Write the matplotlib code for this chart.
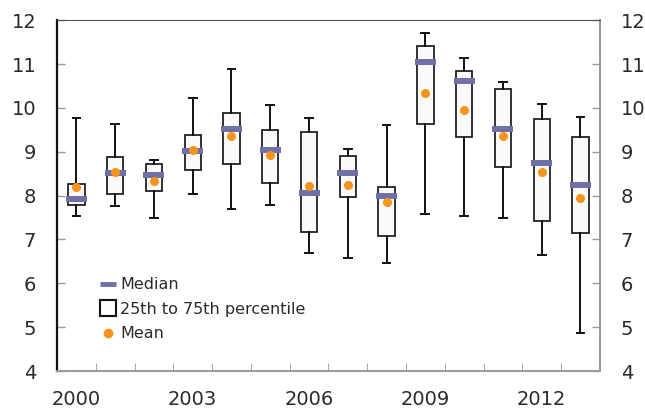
import matplotlib
matplotlib.use('Agg')
import matplotlib.pyplot as plt
from matplotlib.lines import Line2D

plt.rcParams['font.family'] = ['DejaVu Sans']

# values
years   = list(range(2000, 2014))
wh_low  = [7.53, 7.77, 7.50, 8.03, 7.69, 7.78, 6.69, 6.57, 6.46, 7.58, 7.54, 7.49, 6.64, 4.86]
q1      = [7.78, 8.03, 8.11, 8.58, 8.73, 8.29, 7.17, 7.96, 7.09, 9.63, 9.34, 8.65, 7.43, 7.14]
medians = [7.93, 8.52, 8.46, 9.02, 9.53, 9.03, 8.07, 8.52, 7.98, 11.05, 10.62, 9.53, 8.75, 8.24]
q3      = [8.27, 8.88, 8.72, 9.38, 9.89, 9.50, 9.44, 8.90, 8.19, 11.41, 10.83, 10.42, 9.75, 9.34]
wh_high = [9.77, 9.63, 8.81, 10.23, 10.88, 10.07, 9.76, 9.06, 9.60, 11.71, 11.14, 10.58, 10.10, 9.80]
means   = [8.20, 8.54, 8.34, 9.03, 9.35, 8.93, 8.21, 8.24, 7.86, 10.35, 9.96, 9.35, 8.53, 7.95]
label_years = [2000, 2003, 2006, 2009, 2012]

MED_COL = '#6e70a6'
MEAN_COL = '#f7941d'
TXT_COL = '#2a2a2a'

stats = []
for i in range(len(years)):
    stats.append({'whislo': wh_low[i], 'q1': q1[i], 'med': medians[i],
                  'q3': q3[i], 'whishi': wh_high[i], 'fliers': []})

fig = plt.figure(figsize=(6.45, 4.12), dpi=100)
ax = fig.add_axes([0.0884, 0.0995, 0.8416, 0.8515])

ax.bxp(stats, positions=years, widths=0.42, capwidths=0.2, patch_artist=True,
       showfliers=False, manage_ticks=False,
       boxprops=dict(facecolor='#fafafa', edgecolor='#222222', linewidth=1.3),
       whiskerprops=dict(color='#111111', linewidth=1.4),
       capprops=dict(color='#111111', linewidth=1.4),
       medianprops=dict(linewidth=0))

# median bars are a bit wider than the boxes
ax.hlines(medians, [y - 0.27 for y in years], [y + 0.27 for y in years],
          color=MED_COL, linewidth=4.3, zorder=4)
ax.plot(years, means, 'o', color=MEAN_COL, markersize=5.5, zorder=5)

ax.set_xlim(1999.5, 2013.5)
ax.set_ylim(4, 12)
ax.set_yticks(range(4, 13))
ax.set_xticks(label_years)
ax.set_xticklabels([str(y) for y in label_years])
ax.set_xticks([y + 0.5 for y in years[:-1]], minor=True)

ax.tick_params(axis='x', which='major', length=0, pad=14, labelsize=14, colors=TXT_COL)
ax.tick_params(axis='x', which='minor', direction='in', length=6, color='#999999')
ax.tick_params(axis='y', direction='in', length=6, width=1, pad=15, labelsize=14,
               left=True, right=True, labelleft=True, labelright=True,
               colors=TXT_COL)
ax.tick_params(axis='y', which='major', color='#999999')

ax.spines['left'].set_color('#111111')
ax.spines['left'].set_linewidth(1.6)
ax.spines['top'].set_color('#555555')
ax.spines['right'].set_color('#999999')
ax.spines['right'].set_linewidth(1.4)
ax.spines['bottom'].set_color('#999999')
ax.spines['bottom'].set_linewidth(1.4)

handles = [
    Line2D([], [], linestyle='none', marker='_', markersize=12, markeredgewidth=3.5,
           color=MED_COL),
    Line2D([], [], linestyle='none', marker='s', markersize=11, markerfacecolor='white',
           markeredgecolor='#111111', markeredgewidth=1.5),
    Line2D([], [], linestyle='none', marker='o', markersize=6, color=MEAN_COL),
]
leg = ax.legend(handles, ['Median', '25th to 75th percentile', 'Mean'],
                loc='lower left', bbox_to_anchor=(0.066, 0.062), frameon=False,
                fontsize=11.5, handlelength=0.9, handletextpad=0.3, labelspacing=0.6,
                borderpad=0)
for t in leg.get_texts():
    t.set_color(TXT_COL)

fig.savefig('out.png', dpi=100)
